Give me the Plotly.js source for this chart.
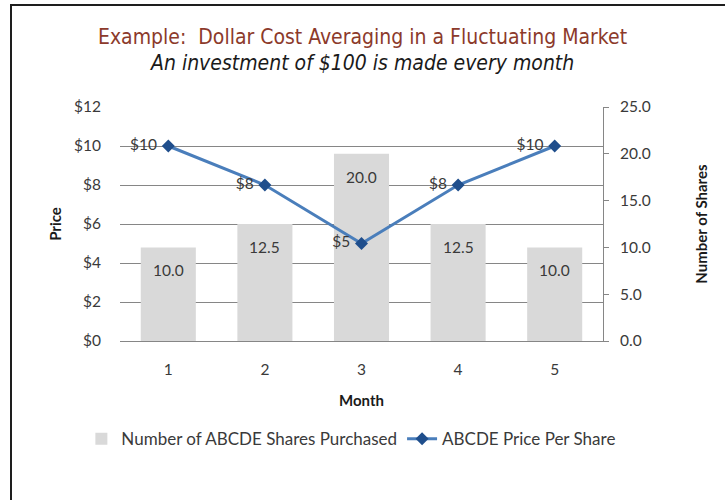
<!DOCTYPE html>
<html>
<head>
<meta charset="utf-8">
<script src="https://cdn.plot.ly/plotly-3.0.1.min.js"></script>
<style>
  html, body { margin: 0; padding: 0; background: #ffffff; }
  #wrap { position: relative; width: 725px; height: 500px; overflow: hidden; }
  #chart { position: absolute; left: 0; top: 0; width: 725px; height: 500px; }
  #frame { position: absolute; left: 10px; top: 4px; width: 740px; height: 520px;
           border-top: 2px solid #1e1e1e; border-left: 2px solid #1e1e1e; pointer-events: none; }
</style>
</head>
<body>
<div id="wrap">
  <div id="chart"></div>
  <div id="frame"></div>
</div>
<script>
// ---- data ----
const months = [1, 2, 3, 4, 5];
const shares = [10.0, 12.5, 20.0, 12.5, 10.0];
const prices = [10, 8, 5, 8, 10];
const priceLabels = prices.map(p => '$' + p + '\u00a0');
const shareLabels = shares.map(s => s.toFixed(1));
const priceTicks = [0, 2, 4, 6, 8, 10, 12];
const priceTickText = priceTicks.map(p => '$' + p);
const shareTicks = [0, 5, 10, 15, 20, 25];
const shareTickText = shareTicks.map(s => s.toFixed(1));

const baseFont = 'Lato, "Open Sans", "Liberation Sans", sans-serif';
const titleFont = '"DejaVu Sans Condensed", "Liberation Sans Narrow", "Arial Narrow", sans-serif';
const textColor = '#3a3a3a';
const gridColor = '#868686';

const barTrace = {
  type: 'bar',
  name: 'Number of ABCDE Shares Purchased',
  x: months,
  y: shares,
  xaxis: 'x',
  yaxis: 'y',
  width: 0.57,
  marker: { color: '#d9d9d9' },
  hoverinfo: 'skip'
};

const lineTrace = {
  type: 'scatter',
  name: 'ABCDE Price Per Share',
  x: months,
  y: prices,
  xaxis: 'x',
  yaxis: 'y2',
  mode: 'lines+markers+text',
  text: priceLabels,
  textposition: 'middle left',
  textfont: { family: baseFont, size: 15.5, color: textColor },
  line: { color: '#4a7ebb', width: 3 },
  marker: { symbol: 'diamond', size: 10, color: '#1f4e8c' },
  hoverinfo: 'skip'
};

const barAnnotations = months.map((m, i) => ({
  x: m, y: shares[i], xref: 'x', yref: 'y',
  text: shareLabels[i], showarrow: false, yshift: -23,
  font: { family: baseFont, size: 15.5, color: textColor }
}));

const subtitleAnnotation = {
  xref: 'paper', yref: 'paper', x: 0.5, y: 1.19, xanchor: 'center', yanchor: 'middle',
  text: '<i>An investment of $100 is made every month</i>',
  showarrow: false,
  font: { family: titleFont, size: 21, color: '#1a1a1a' }
};

const layout = {
  width: 725,
  height: 500,
  paper_bgcolor: '#ffffff',
  plot_bgcolor: '#ffffff',
  margin: { l: 120, r: 122, t: 107, b: 159, autoexpand: false },
  font: { family: baseFont, size: 15, color: textColor },
  showlegend: true,
  title: {
    text: 'Example:  Dollar Cost Averaging in a Fluctuating Market',
    font: { family: titleFont, size: 21, color: '#8c3a2b' },
    x: 0.5, xanchor: 'center',
    y: 0.926, yanchor: 'middle', yref: 'container'
  },
  xaxis: {
    range: [0.5, 5.5],
    tickvals: months,
    ticktext: months.map(String),
    showgrid: false,
    zeroline: false,
    showline: true,
    linecolor: gridColor,
    linewidth: 1,
    ticks: '',
    ticklabelstandoff: 14,
    tickfont: { family: baseFont, size: 15.5, color: textColor },
    automargin: false,
    title: { text: '<b>Month</b>', standoff: 18, font: { family: baseFont, size: 15, color: '#1a1a1a' } }
  },
  yaxis: {
    side: 'right',
    range: [0, 25],
    tickvals: shareTicks,
    ticktext: shareTickText,
    showgrid: false,
    zeroline: false,
    showline: true,
    linecolor: gridColor,
    ticks: 'outside',
    ticklen: 5,
    tickcolor: gridColor,
    ticklabelstandoff: 8,
    tickfont: { family: baseFont, size: 15.5, color: textColor },
    automargin: false,
    title: { text: '<b>Number of Shares</b>', standoff: 46, font: { family: baseFont, size: 15, color: '#1a1a1a' } }
  },
  yaxis2: {
    overlaying: 'y',
    side: 'left',
    range: [0, 12],
    tickvals: priceTicks,
    ticktext: priceTickText,
    showgrid: true,
    gridcolor: gridColor,
    gridwidth: 1,
    zeroline: false,
    showline: false,
    ticks: '',
    ticklabelstandoff: 18,
    tickfont: { family: baseFont, size: 15.5, color: textColor },
    automargin: false,
    title: { text: '<b>Price</b>', standoff: 8, font: { family: baseFont, size: 15, color: '#1a1a1a' } }
  },
  legend: {
    orientation: 'h',
    x: -0.08, xanchor: 'left',
    y: -0.42, yanchor: 'middle',
    font: { family: baseFont, size: 17, color: textColor },
    bgcolor: 'rgba(0,0,0,0)'
  },
  annotations: barAnnotations.concat([subtitleAnnotation])
};

Plotly.newPlot('chart', [barTrace, lineTrace], layout, { displayModeBar: false, staticPlot: true });
</script>
</body>
</html>
